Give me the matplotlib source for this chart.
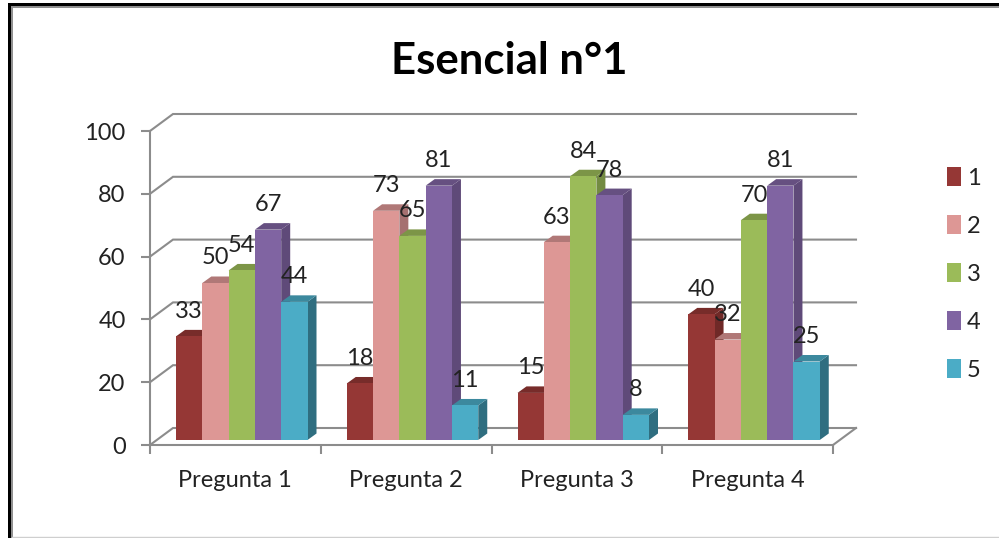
import matplotlib
matplotlib.use("Agg")
import matplotlib.pyplot as plt
from matplotlib.lines import Line2D
from matplotlib.patches import Patch, Polygon, Rectangle

WIDTH, HEIGHT = 999, 538

preguntas = ["Pregunta 1", "Pregunta 2", "Pregunta 3", "Pregunta 4"]
serie_1 = [33, 18, 15, 40]
serie_2 = [50, 73, 63, 32]
serie_3 = [54, 65, 84, 70]
serie_4 = [67, 81, 78, 81]
serie_5 = [44, 11, 8, 25]
series = [serie_1, serie_2, serie_3, serie_4, serie_5]
nombres = ["1", "2", "3", "4", "5"]
y_ticks = [0, 20, 40, 60, 80, 100]

front_colors = ["#953735", "#DD9795", "#9BBB59", "#8064A2", "#4BACC6"]
top_colors = ["#772C2A", "#B07877", "#7C9547", "#665081", "#3C899E"]
side_colors = ["#6F2927", "#A57070", "#738B42", "#5F4A79", "#2F6E80"]
GRID = "#8C8C8C"

plt.rcParams["font.family"] = ["Lato", "DejaVu Sans"]

fig = plt.figure(figsize=(WIDTH / 100, HEIGHT / 100), dpi=100)
left, right, base, top = 150, 833, 445, 131
ax = fig.add_axes([left / WIDTH, (HEIGHT - base) / HEIGHT,
                   (right - left) / WIDTH, (base - top) / HEIGHT])
ax.set_xlim(0, 4)
ax.set_ylim(0, 100)
ax.patch.set_visible(False)

# pixel sizes expressed in data units
px_x = 4 / (right - left)
px_y = 100 / (base - top)

# back wall and floor of the fake 3D box
wall_dx, wall_dy = 23 * px_x, 17 * px_y
for v in y_ticks:
    ax.plot([0, wall_dx, 4 + wall_dx], [v, v + wall_dy, v + wall_dy],
            color=GRID, lw=1.5, clip_on=False, zorder=1, solid_joinstyle="miter")
ax.plot([4, 4 + wall_dx], [0, wall_dy], color=GRID, lw=1.5, clip_on=False, zorder=1)

# bars, left to right so each one covers the side of the previous
bar_w = 26.3 * px_x
start = 26 * px_x
floor = 5 * px_y
depth_x, depth_y = 9 * px_x, 6.5 * px_y
z = 2
for g in range(len(preguntas)):
    for s, vals in enumerate(series):
        x0 = g + start + s * bar_w
        x1 = x0 + bar_w
        y1 = floor + vals[g]
        ax.add_patch(Polygon([(x1, floor), (x1 + depth_x, floor + depth_y),
                              (x1 + depth_x, y1 + depth_y), (x1, y1)],
                             fc=side_colors[s], ec="none", zorder=z, clip_on=False))
        ax.add_patch(Polygon([(x0, y1), (x0 + depth_x, y1 + depth_y),
                              (x1 + depth_x, y1 + depth_y), (x1, y1)],
                             fc=top_colors[s], ec="none", zorder=z, clip_on=False))
        ax.bar(x0, vals[g], bar_w, bottom=floor, align="edge",
               color=front_colors[s], zorder=z + 0.5)
        z += 1
        ax.text(x0 + bar_w / 2, y1 + 25 * px_y, str(vals[g]), ha="center", va="center",
                fontsize=17, color="#222222", zorder=100, clip_on=False)

for side in ["top", "right"]:
    ax.spines[side].set_visible(False)
for side in ["left", "bottom"]:
    ax.spines[side].set_color(GRID)
    ax.spines[side].set_linewidth(1.5)
    ax.spines[side].set_zorder(1.5)

ax.set_yticks(y_ticks)
ax.set_xticks(range(5))
ax.set_xticklabels([])
ax.set_xticks([i + 0.5 for i in range(4)], labels=preguntas, minor=True)
ax.tick_params(axis="both", which="major", color=GRID, width=1.5, length=6.5,
               labelsize=17, labelcolor="#222222")
ax.tick_params(axis="y", pad=11)
ax.tick_params(axis="x", which="minor", length=0, pad=18, labelsize=17, labelcolor="#222222")

fig.text(509 / WIDTH, 1 - 61 / HEIGHT, "Esencial n°1", ha="center", va="center",
         fontsize=31.5, fontweight="bold", color="black")

handles = [Patch(fc=c, ec="none") for c in front_colors]
fig.legend(handles, nombres, loc="center left", frameon=False,
           bbox_to_anchor=(930 / WIDTH, 1 - 274 / HEIGHT), fontsize=17,
           handlelength=0.6, handleheight=0.85, handletextpad=0.25,
           labelspacing=1.12, labelcolor="#222222", borderpad=0.2)

# window frame around the chart
fig.add_artist(Rectangle((8 / WIDTH, 0), 2.5 / WIDTH, 1 - 3 / HEIGHT, fc="black", ec="none"))
fig.add_artist(Rectangle((8 / WIDTH, 1 - 6 / HEIGHT), 1 - 8 / WIDTH, 3 / HEIGHT, fc="black", ec="none"))
fig.add_artist(Rectangle((10.5 / WIDTH, 0), 2 / WIDTH, 1 - 6 / HEIGHT, fc="#909090", ec="none"))
fig.add_artist(Rectangle((10.5 / WIDTH, 1 - 8 / HEIGHT), 1 - 10.5 / WIDTH, 2 / HEIGHT, fc="#909090", ec="none"))
fig.add_artist(Line2D([12 / WIDTH, 1], [1.5 / HEIGHT, 1.5 / HEIGHT], color="#CFCFCF", lw=1))

fig.savefig("out.png", dpi=100)
